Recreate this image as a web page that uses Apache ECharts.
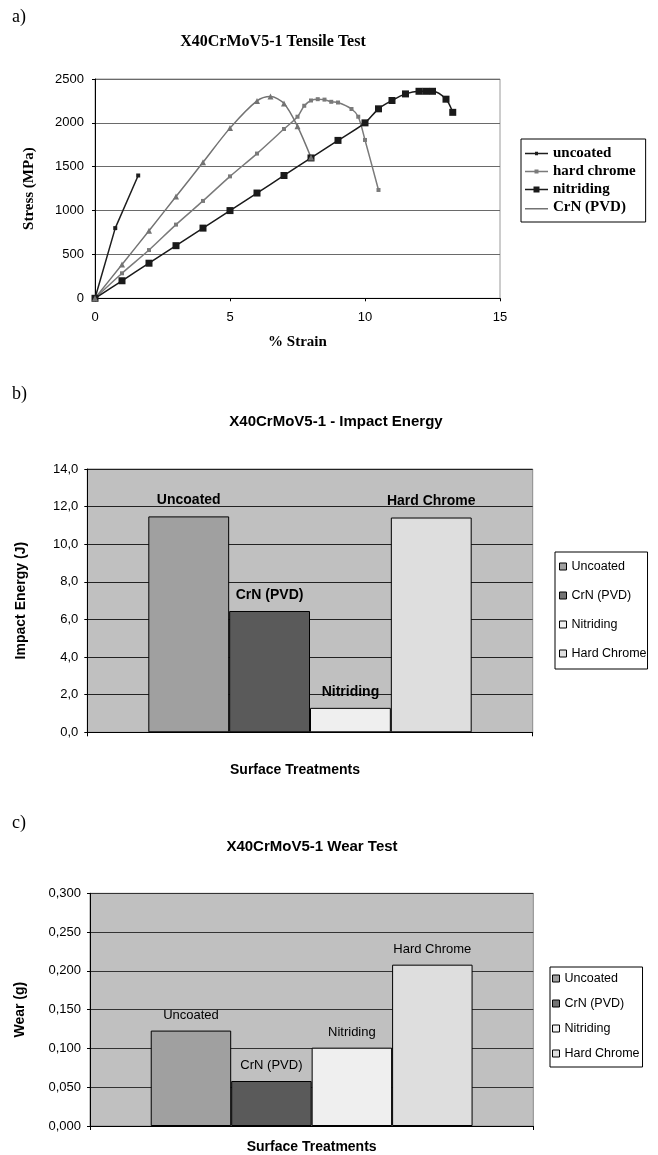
<!DOCTYPE html>
<html><head><meta charset="utf-8">
<script src="https://cdn.jsdelivr.net/npm/echarts@6/dist/echarts.min.js"></script>
<style>html,body{margin:0;padding:0;background:#fff}#c{width:658px;height:1155px}</style>
</head><body><div id="c"></div>
<script>
// ---- Chart a: tensile test ----
const uncoatedX = [0, 0.75, 1.6];
const uncoatedY = [0, 800, 1400];
const hardChromeX = [0, 1, 2, 3, 4, 5, 6, 7, 7.5, 7.75, 8, 8.25, 8.5, 8.75, 9, 9.5, 9.75, 10, 10.5];
const hardChromeY = [0, 285, 550, 840, 1110, 1390, 1650, 1930, 2070, 2195, 2255, 2270, 2265, 2240, 2232, 2158, 2070, 1805, 1235];
const nitridingX = [0, 1, 2, 3, 4, 5, 6, 7, 8, 9, 10, 10.5, 11, 11.5, 12, 12.25, 12.5, 13, 13.25];
const nitridingY = [0, 200, 400, 600, 800, 1000, 1200, 1400, 1600, 1800, 2000, 2160, 2255, 2330, 2360, 2360, 2360, 2270, 2120];
const crnX = [0, 1, 2, 3, 4, 5, 6, 6.5, 7, 7.5, 8];
const crnY = [0, 385, 770, 1160, 1550, 1940, 2250, 2300, 2220, 1960, 1605];
const lineNames = ['uncoated', 'hard chrome', 'nitriding', 'CrN (PVD)'];
const xTicksA = ['0', '5', '10', '15'];
const yTicksA = ['0', '500', '1000', '1500', '2000', '2500'];

// ---- Charts b and c ----
const treatments = ['Uncoated', 'CrN (PVD)', 'Nitriding', 'Hard Chrome'];
const impactEnergy = [11.48, 6.45, 1.3, 11.42];
const wear = [0.123, 0.058, 0.101, 0.208];
const yTicksB = ['0,0', '2,0', '4,0', '6,0', '8,0', '10,0', '12,0', '14,0'];
const yTicksC = ['0,000', '0,050', '0,100', '0,150', '0,200', '0,250', '0,300'];

const barColors = ['#a0a0a0', '#5a5a5a', '#efefef', '#dedede'];
const SERIF = 'Liberation Serif';
const SANS = 'Liberation Sans';

function pairs(xs, ys) { return xs.map((x, i) => [x, ys[i]]); }

const chart = echarts.init(document.getElementById('c'), null, {renderer: 'canvas'});

const lineStyles = [
  {color: '#1e1e1e', symbol: 'rect', size: 4, smooth: false, data: pairs(uncoatedX, uncoatedY)},
  {color: '#7a7a7a', symbol: 'rect', size: 4, smooth: 0.3, data: pairs(hardChromeX, hardChromeY)},
  {color: '#1a1a1a', symbol: 'rect', size: 7, smooth: 0.3, data: pairs(nitridingX, nitridingY)},
  {color: '#737373', symbol: 'triangle', size: 6, smooth: 0.3, data: pairs(crnX, crnY)}
];

// legend icons: line with marker of the right size (box 23 x 10)
const BOX = 'M0,0L0.01,0ZM0,10L0.01,10Z';
const legendIconsA = [
  'path://' + BOX + 'M0,4.2L23,4.2L23,5.8L0,5.8ZM10,3.3L13,3.3L13,6.7L10,6.7Z',
  'path://' + BOX + 'M0,4.2L23,4.2L23,5.8L0,5.8ZM9.5,3L13.5,3L13.5,7L9.5,7Z',
  'path://' + BOX + 'M0,4.2L23,4.2L23,5.8L0,5.8ZM8.5,2L14.5,2L14.5,8L8.5,8Z',
  'path://' + BOX + 'M0,5.6L23,5.6L23,7L0,7Z'
];

const series = [];
lineStyles.forEach((s, i) => {
  series.push({
    type: 'line', name: lineNames[i], xAxisIndex: 0, yAxisIndex: 0,
    data: s.data, smooth: s.smooth, symbol: s.symbol, symbolSize: s.size,
    showSymbol: true, animation: false,
    lineStyle: {color: s.color, width: 1.5},
    itemStyle: {color: s.color}
  });
});

function barSeries(values, axisIdx, bold) {
  return treatments.map((name, i) => ({
    type: 'bar', name: name, xAxisIndex: axisIdx, yAxisIndex: axisIdx,
    data: [values[i]], barGap: '0%', barCategoryGap: '27.4%', animation: false,
    itemStyle: {color: barColors[i], borderColor: '#000', borderWidth: 1},
    label: {show: true, position: 'top', distance: 9, formatter: '{a}',
      color: '#000', fontFamily: SANS, fontSize: bold ? 14 : 13, fontWeight: bold ? 'bold' : 'normal'}
  }));
}
series.push(...barSeries(impactEnergy, 1, true));
series.push(...barSeries(wear, 2, false));

const axisLineBlack = {show: true, lineStyle: {color: '#000', width: 1}};

const option = {
  backgroundColor: '#fff',
  animation: false,
  title: [
    {text: 'a)', left: 12, top: 8, padding: 0, textStyle: {fontFamily: SERIF, fontSize: 18, fontWeight: 'normal', color: '#000'}},
    {text: 'X40CrMoV5-1 Tensile Test', left: 273, top: 34, padding: 0, textAlign: 'center', textStyle: {fontFamily: SERIF, fontSize: 16, fontWeight: 'bold', color: '#000'}},
    {text: 'b)', left: 12, top: 385, padding: 0, textStyle: {fontFamily: SERIF, fontSize: 18, fontWeight: 'normal', color: '#000'}},
    {text: 'X40CrMoV5-1 - Impact Energy', left: 336, top: 414, padding: 0, textAlign: 'center', textStyle: {fontFamily: SANS, fontSize: 15, fontWeight: 'bold', color: '#000'}},
    {text: 'c)', left: 12, top: 814, padding: 0, textStyle: {fontFamily: SERIF, fontSize: 18, fontWeight: 'normal', color: '#000'}},
    {text: 'X40CrMoV5-1 Wear Test', left: 312, top: 839, padding: 0, textAlign: 'center', textStyle: {fontFamily: SANS, fontSize: 15, fontWeight: 'bold', color: '#000'}}
  ],
  legend: [
    {
      data: lineNames.map((n, i) => ({name: n, icon: legendIconsA[i]})),
      orient: 'vertical', left: 521, top: 139, itemWidth: 23, itemHeight: 10, itemGap: 3,
      padding: [7, 10, 7, 4], borderColor: '#000', borderWidth: 1, selectedMode: false,
      textStyle: {fontFamily: SERIF, fontSize: 15, fontWeight: 'bold', color: '#000'}
    },
    {
      data: treatments, orient: 'vertical', left: 555, top: 552, icon: 'rect',
      itemWidth: 7, itemHeight: 7, itemGap: 16, padding: [8, 1, 9, 4],
      itemStyle: {borderColor: '#000', borderWidth: 1},
      borderColor: '#000', borderWidth: 1, selectedMode: false,
      textStyle: {fontFamily: SANS, fontSize: 12.5, color: '#000'}
    },
    {
      data: treatments, orient: 'vertical', left: 550, top: 967, icon: 'rect',
      itemWidth: 7, itemHeight: 7, itemGap: 12, padding: [5, 3, 7, 2],
      itemStyle: {borderColor: '#000', borderWidth: 1},
      borderColor: '#000', borderWidth: 1, selectedMode: false,
      backgroundColor: '#fff',
      textStyle: {fontFamily: SANS, fontSize: 12.5, color: '#000'}
    }
  ],
  grid: [
    {left: 95, top: 79, width: 405, height: 219.3, show: true, borderColor: '#9a9a9a', borderWidth: 1, backgroundColor: 'transparent'},
    {left: 87.3, top: 469, width: 445.4, height: 263.3, show: true, borderColor: '#8a8a8a', borderWidth: 1, backgroundColor: '#c0c0c0'},
    {left: 90, top: 893.3, width: 443.3, height: 234, show: true, borderColor: '#8a8a8a', borderWidth: 1, backgroundColor: '#c0c0c0'}
  ],
  xAxis: [
    {
      type: 'value', gridIndex: 0, min: 0, max: 15, interval: 5,
      name: '% Strain', nameLocation: 'middle', nameGap: 36,
      nameTextStyle: {fontFamily: SERIF, fontSize: 15, fontWeight: 'bold', color: '#000'},
      axisLine: axisLineBlack, axisTick: {show: true, length: 3, lineStyle: {color: '#000'}},
      splitLine: {show: false},
      axisLabel: {margin: 13, fontFamily: SANS, fontSize: 13, color: '#000', formatter: v => xTicksA[Math.round(v / 5)]}
    },
    {
      type: 'category', gridIndex: 1, data: [''], boundaryGap: true,
      name: 'Surface Treatments', nameLocation: 'middle', nameGap: 31,
      nameTextStyle: {fontFamily: SANS, fontSize: 14, fontWeight: 'bold', color: '#000', padding: [0, 30, 0, 0]},
      axisLine: axisLineBlack, axisTick: {show: true, length: 4, lineStyle: {color: '#000'}},
      axisLabel: {show: false}
    },
    {
      type: 'category', gridIndex: 2, data: [''], boundaryGap: true,
      name: 'Surface Treatments', nameLocation: 'middle', nameGap: 14,
      nameTextStyle: {fontFamily: SANS, fontSize: 14, fontWeight: 'bold', color: '#000'},
      axisLine: axisLineBlack, axisTick: {show: true, length: 4, lineStyle: {color: '#000'}},
      axisLabel: {show: false}
    }
  ],
  yAxis: [
    {
      type: 'value', gridIndex: 0, min: 0, max: 2500, interval: 500,
      name: 'Stress (MPa)', nameLocation: 'middle', nameGap: 58,
      nameTextStyle: {fontFamily: SERIF, fontSize: 15, fontWeight: 'bold', color: '#000'},
      axisLine: axisLineBlack, axisTick: {show: true, length: 3, lineStyle: {color: '#000'}},
      splitLine: {show: true, lineStyle: {color: '#6a6a6a', width: 1}},
      axisLabel: {margin: 11, fontFamily: SANS, fontSize: 13, color: '#000', formatter: v => yTicksA[Math.round(v / 500)]}
    },
    {
      type: 'value', gridIndex: 1, min: 0, max: 14, interval: 2,
      name: 'Impact Energy (J)', nameLocation: 'middle', nameGap: 59,
      nameTextStyle: {fontFamily: SANS, fontSize: 14, fontWeight: 'bold', color: '#000'},
      axisLine: axisLineBlack, axisTick: {show: true, length: 3, lineStyle: {color: '#000'}},
      splitLine: {show: true, lineStyle: {color: '#222', width: 1}},
      axisLabel: {margin: 9, fontFamily: SANS, fontSize: 13, color: '#000', formatter: v => yTicksB[Math.round(v / 2)]}
    },
    {
      type: 'value', gridIndex: 2, min: 0, max: 0.3, interval: 0.05,
      name: 'Wear (g)', nameLocation: 'middle', nameGap: 63,
      nameTextStyle: {fontFamily: SANS, fontSize: 14, fontWeight: 'bold', color: '#000'},
      axisLine: axisLineBlack, axisTick: {show: true, length: 3, lineStyle: {color: '#000'}},
      splitLine: {show: true, lineStyle: {color: '#333', width: 1}},
      axisLabel: {margin: 9, fontFamily: SANS, fontSize: 13, color: '#000', formatter: v => yTicksC[Math.round(v / 0.05)]}
    }
  ],
  series: series
};
chart.setOption(option);
</script>
</body></html>
